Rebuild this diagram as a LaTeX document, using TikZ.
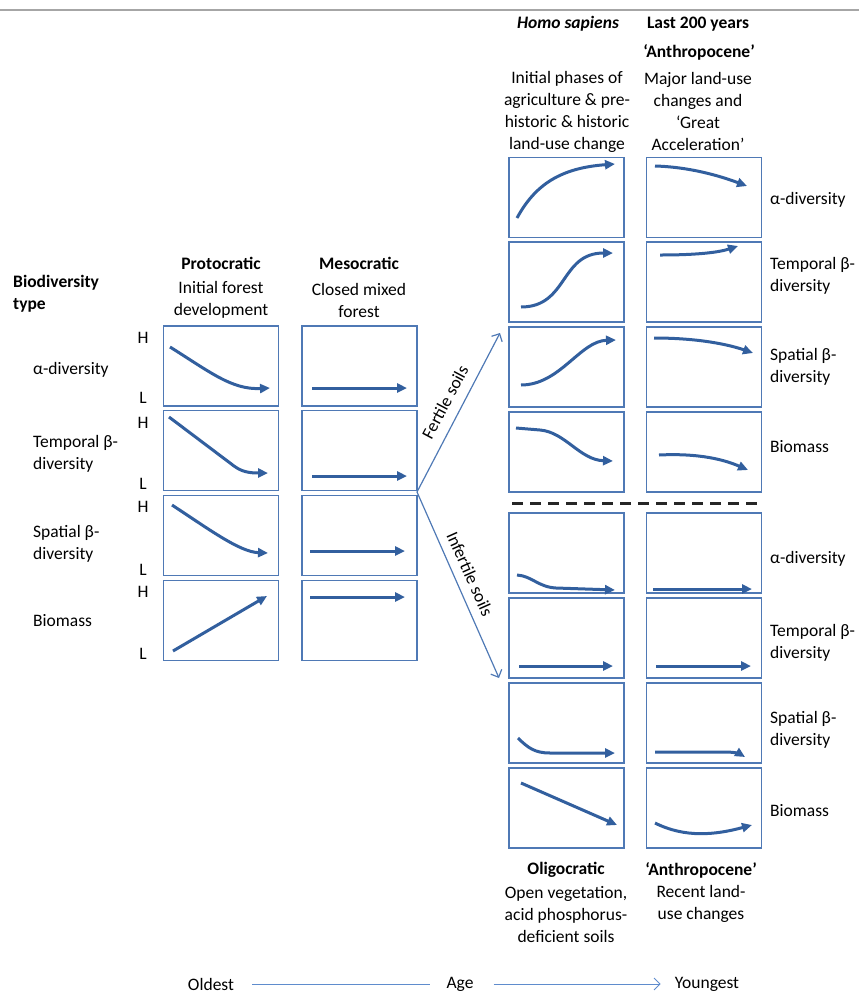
\documentclass[tikz,border=0pt]{standalone}
\usepackage{fontspec}
\setmainfont{Carlito}
\usetikzlibrary{arrows.meta}
\definecolor{boxc}{RGB}{79,121,181}
\definecolor{crv}{RGB}{50,95,158}
\definecolor{axc}{RGB}{95,140,205}
\begin{document}
\begin{tikzpicture}[x=1pt,y=-1pt,
  bx/.style={draw=boxc, line width=1.5pt, minimum width=115pt, minimum height=80pt, inner sep=0pt, outer sep=0pt},
  crvline/.style={draw=crv, line width=3pt, -{Triangle[length=10pt,width=9pt]}},
  txt/.style={font=\fontsize{17.5}{22}\selectfont, align=center, inner sep=0pt},
  btxt/.style={txt, font=\fontsize{17.5}{22}\selectfont\bfseries},
  ltxt/.style={txt, align=left, anchor=west},
  thinarr/.style={draw=boxc, line width=1.2pt, -{Straight Barb[length=6pt,width=12pt]}},
  axline/.style={draw=axc, line width=1pt}
]
\useasboundingbox (0,0) rectangle (859,994);
\draw[gray!70, line width=1.5pt] (0,10) -- (859,10);

% ---------- headers ----------
\node[ltxt, font=\fontsize{17.5}{22}\selectfont\bfseries] (bt) at (13,294) {Biodiversity\\type};
\node[btxt] (hp) at (221,263) {Protocratic};
\node[txt] (hp2) at (221,300) {Initial forest\\development};
\node[btxt] (hm) at (359,263) {Mesocratic};
\node[txt] (hm2) at (359,300) {Closed mixed\\forest};
\node[txt, font=\fontsize{17.5}{22}\selectfont\bfseries\itshape] (hh) at (568,24) {Homo sapiens};
\node[btxt] (hl) at (698,24) {Last 200 years};
\node[btxt] (ha) at (699,52) {‘Anthropocene’};
\node[txt] (hh2) at (567,111.5) {Initial phases of\\agriculture \& pre-\\historic \& historic\\land-use change};
\node[txt] (hl2) at (698,111.5) {Major land-use\\changes and\\‘Great\\Acceleration’};
\node[btxt] (ho) at (566,870) {Oligocratic};
\node[txt] (ho2) at (566,915) {Open vegetation,\\acid phosphorus-\\deficient soils};
\node[btxt] (ha2) at (701,870) {‘Anthropocene’};
\node[txt] (ha3) at (701,904) {Recent land-\\use changes};

% ---------- left row labels ----------
\node[ltxt] (la) at (33,370) {α-diversity};
\node[ltxt] (lt) at (33,453.5) {Temporal β-\\diversity};
\node[ltxt] (ls) at (33,544) {Spatial β-\\diversity};
\node[ltxt] (lb) at (33,621) {Biomass};
\foreach \i/\h/\l in {1/338/398, 2/423/484, 3/507/570, 4/592/654}{
  \node[txt] (H\i) at (143,\h) {H};
  \node[txt] (L\i) at (143,\l) {L};
}

% ---------- right row labels ----------
\node[ltxt] (ra1) at (770,200) {α-diversity};
\node[ltxt] (rt1) at (770,275.5) {Temporal β-\\diversity};
\node[ltxt] (rs1) at (770,367) {Spatial β-\\diversity};
\node[ltxt] (rb1) at (770,447) {Biomass};
\node[ltxt] (ra2) at (770,559) {α-diversity};
\node[ltxt] (rt2) at (770,642.5) {Temporal β-\\diversity};
\node[ltxt] (rs2) at (770,730) {Spatial β-\\diversity};
\node[ltxt] (rb2) at (770,811) {Biomass};

% ---------- boxes ----------
\foreach \r/\y in {1/366, 2/450.5, 3/535.5, 4/620.5}{
  \node[bx] (P\r) at (221,\y) {};
  \node[bx] (M\r) at (359.5,\y) {};
}
\foreach \r/\y in {1/197.5, 2/282, 3/367, 4/452}{
  \node[bx] (F\r) at (566.5,\y) {};
  \node[bx] (G\r) at (704,\y) {};
}
\foreach \r/\y in {1/553, 2/638, 3/723, 4/808}{
  \node[bx] (I\r) at (566.5,\y) {};
  \node[bx] (J\r) at (704,\y) {};
}

% ---------- curves: protocratic ----------
\draw[crvline] (170,347) .. controls (210,372) and (232,390) .. (270,388);
\draw[crvline] (169,417) -- (234,466) .. controls (242,472) and (250,473) .. (268,473);
\draw[crvline] (172,505) .. controls (210,530) and (240,552) .. (268,553);
\draw[crvline] (173,651) -- (267,596);
% mesocratic
\draw[crvline] (312,388) -- (407,388);
\draw[crvline] (312,476) -- (407,476);
\draw[crvline] (310,551) -- (405,551);
\draw[crvline] (310,597) -- (405,597);
% fertile, homo sapiens
\draw[crvline] (517,218) .. controls (535,185) and (560,168) .. (615,164);
\draw[crvline] (521,307) .. controls (568,307) and (560,253) .. (613,253);
\draw[crvline] (521,385) .. controls (560,385) and (580,341) .. (616,340);
\draw[crvline] (516,428) -- (540,430) .. controls (565,432) and (580,460) .. (613,461);
% fertile, last 200 years
\draw[crvline] (655,166) .. controls (690,167) and (720,176) .. (747,186);
\draw[crvline] (660,255) .. controls (700,255) and (720,252) .. (738,246);
\draw[crvline] (654,338) .. controls (700,338) and (730,345) .. (753,353);
\draw[crvline] (659,455) .. controls (700,453) and (725,460) .. (748,470);
% infertile, oligocratic
\draw[crvline] (517,575) .. controls (532,576) and (538,587) .. (556,588) -- (615,590);
\draw[crvline] (519,666) -- (613,666);
\draw[crvline] (518,738) .. controls (528,748) and (535,753) .. (550,753) -- (615,753);
\draw[crvline] (521,783) -- (617,825);
% infertile, anthropocene
\draw[crvline] (653,589) -- (752,589);
\draw[crvline] (656,666) -- (751,666);
\draw[crvline] (655,752) -- (725,752) .. controls (735,752) and (740,754) .. (745,757);
\draw[crvline] (655,823) .. controls (685,838) and (715,835) .. (752,825);

% dashed separator
\draw[black!85, line width=3pt, dash pattern=on 11pt off 7pt] (512,503) -- (758,503);

% ---------- fertile / infertile ----------
\coordinate (jn) at (417,492);
\coordinate (ft) at (500,333);
\coordinate (it) at (499,678);
\draw[thinarr] (jn) -- (ft);
\draw[thinarr] (jn) -- (it);
\node[txt, rotate=62] (fs) at (445,402) {Fertile soils};
\node[txt, rotate=-66] (is) at (470,574) {Infertile soils};

% ---------- age axis ----------
\node[txt] (old) at (211,984) {Oldest};
\node[txt] (age) at (460,984) {Age};
\node[txt] (yng) at (707,984) {Youngest};
\draw[axline] ([xshift=18pt]old.east) -- ([xshift=-16pt]age.west);
\draw[axline, -{Straight Barb[length=6pt,width=12pt]}] ([xshift=20pt]age.east) -- ([xshift=-14pt]yng.west);
\end{tikzpicture}
\end{document}
